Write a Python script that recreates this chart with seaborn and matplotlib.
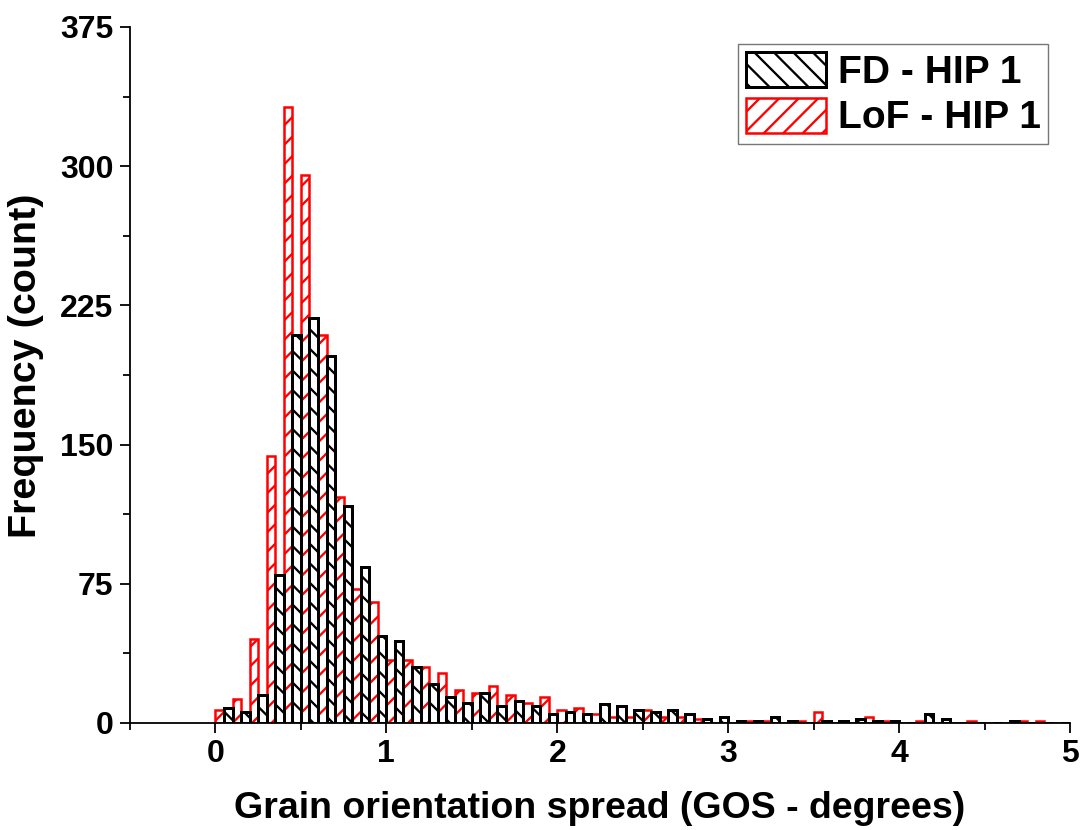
import numpy as np
import pandas as pd
import matplotlib
matplotlib.use("Agg")
import matplotlib.pyplot as plt
import seaborn as sns
from matplotlib.patches import Patch
from matplotlib.ticker import MultipleLocator

# Bin centres (bin width 0.1 deg, 0 - 5 deg)
bin_centers = [round(0.05 + 0.1 * i, 3) for i in range(50)]

lof_counts = [7, 13, 45, 144, 332, 295, 209, 122, 72, 65,
              34, 34, 30, 27, 18, 16, 20, 15, 11, 14,
              7, 8, 5, 3, 3, 7, 3, 3, 2, 0,
              0, 1, 1, 0, 1, 6, 0, 0, 3, 1,
              0, 1, 0, 0, 1, 0, 0, 1, 1, 0]

fd_counts = [8, 6, 15, 80, 209, 218, 198, 117, 84, 47,
             44, 30, 21, 14, 11, 16, 9, 12, 9, 5,
             6, 5, 10, 9, 7, 6, 7, 5, 2, 3,
             1, 1, 3, 1, 0, 1, 1, 2, 1, 1,
             0, 5, 2, 0, 0, 0, 1, 0, 0, 0]

series_names = ["LoF - HIP 1", "FD - HIP 1"]
series_colors = {"LoF - HIP 1": "#ff0000", "FD - HIP 1": "#000000"}

df = pd.DataFrame({
    "gos": bin_centers * 2,
    "count": lof_counts + fd_counts,
    "series": [series_names[0]] * len(bin_centers) + [series_names[1]] * len(bin_centers),
})

# render resolution chosen so that the hatch spacing matches the original
DPI = 117
P = 72.0 / DPI  # points per pixel
W_PX, H_PX = 1084, 830

sns.set_style("ticks")
plt.rcParams["font.family"] = ["Liberation Sans", "DejaVu Sans"]
plt.rcParams["font.weight"] = "bold"
plt.rcParams["hatch.linewidth"] = 2.3 * P
plt.rcParams["text.color"] = "black"
plt.rcParams["axes.labelcolor"] = "black"
plt.rcParams["xtick.color"] = "black"
plt.rcParams["ytick.color"] = "black"

fig = plt.figure(figsize=(W_PX / DPI, H_PX / DPI), dpi=DPI)
ax = fig.add_axes([130 / W_PX, 1 - 723 / H_PX, 940 / W_PX, 696 / H_PX])

sns.histplot(data=df, x="gos", weights="count", hue="series", hue_order=series_names,
             multiple="dodge", binwidth=0.1, binrange=(0, 5), shrink=1.0,
             palette=series_colors, legend=False, ax=ax, alpha=1)

for p in ax.patches:
    fc = p.get_facecolor()
    if fc[0] > 0.5:  # red series
        p.set_facecolor("white")
        p.set_edgecolor("#ff0000")
        p.set_hatch("//")
        p.set_linewidth(2.5 * P)
        p.set_zorder(2)
    else:
        p.set_facecolor("white")
        p.set_edgecolor("#000000")
        p.set_hatch("\\\\")
        p.set_linewidth(3.0 * P)
        p.set_zorder(3)

ax.set_xlim(-0.5, 5)
ax.set_ylim(0, 375)
ax.xaxis.set_major_locator(MultipleLocator(1))
ax.xaxis.set_minor_locator(MultipleLocator(0.5))
ax.yaxis.set_major_locator(MultipleLocator(75))
ax.yaxis.set_minor_locator(MultipleLocator(37.5))
ax.tick_params(axis="both", which="major", direction="out", length=9.5 * P, width=1.8 * P,
               labelsize=32 * P, pad=7 * P, colors="black")
ax.tick_params(axis="both", which="minor", direction="out", length=7 * P, width=1.8 * P,
               colors="black")
for lab in ax.get_xticklabels() + ax.get_yticklabels():
    lab.set_fontweight("bold")

sns.despine(ax=ax, top=True, right=True)
for s in ["left", "bottom"]:
    ax.spines[s].set_linewidth(1.8 * P)
    ax.spines[s].set_color("black")

ax.set_xlabel("Grain orientation spread (GOS - degrees)", fontsize=37.5 * P, fontweight="bold",
              labelpad=21 * P, color="black")
ax.set_ylabel("Frequency (count)", fontsize=39.5 * P, fontweight="bold", color="black")
ax.yaxis.set_label_coords(-0.0915, 0.514)

handles = [
    Patch(facecolor="white", edgecolor="#000000", hatch="\\\\", linewidth=3.0 * P, label="FD - HIP 1"),
    Patch(facecolor="white", edgecolor="#ff0000", hatch="//", linewidth=2.5 * P, label="LoF - HIP 1"),
]
leg = ax.legend(handles=handles, loc="upper right", bbox_to_anchor=(0.977, 0.9756),
                fontsize=39 * P, frameon=True, fancybox=False, handlelength=2.05,
                handleheight=1.0, handletextpad=0.3, borderpad=0.2, labelspacing=0.18,
                borderaxespad=0.0)
leg.get_frame().set_edgecolor("#555555")
leg.get_frame().set_linewidth(1.4 * P)
for t in leg.get_texts():
    t.set_fontweight("bold")
    t.set_color("black")

fig.savefig("out.png", dpi=DPI)
